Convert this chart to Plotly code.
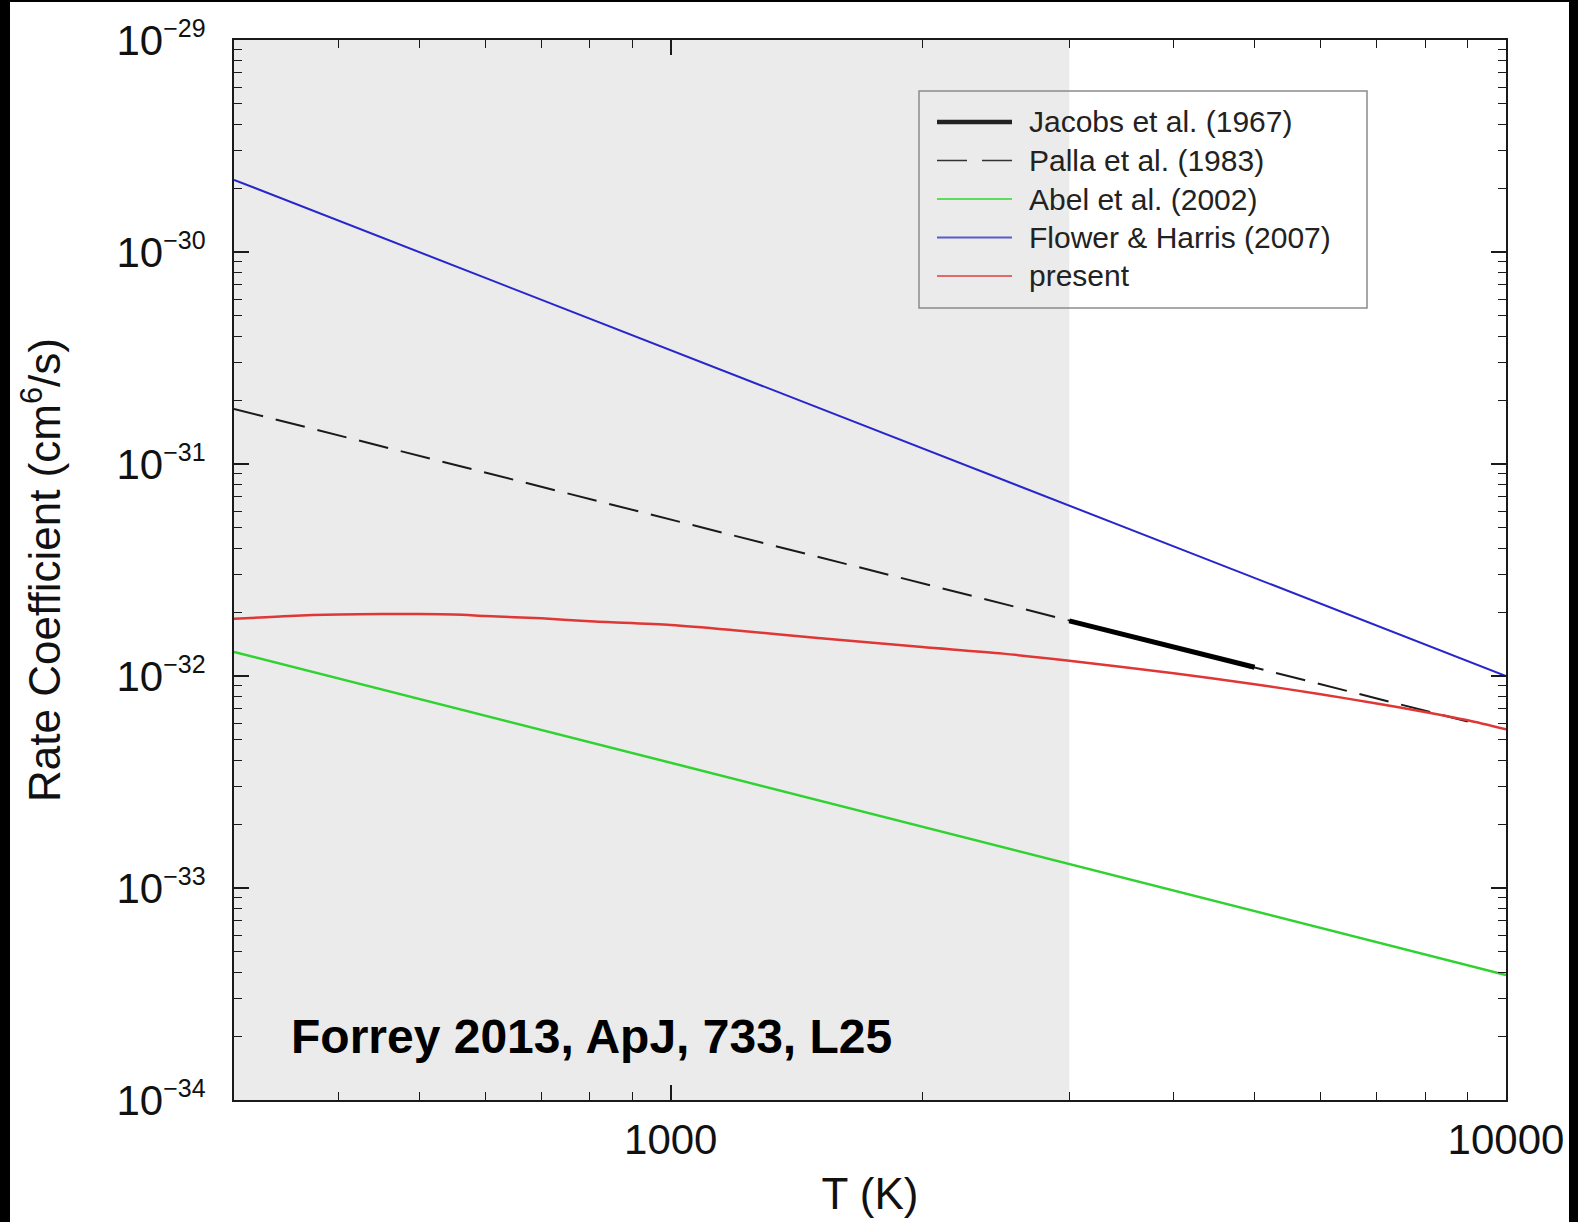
import math
import plotly.graph_objects as go

# ---------------- data ----------------
SERIES_NAMES = ["Jacobs et al. (1967)", "Palla et al. (1983)", "Abel et al. (2002)",
                "Flower & Harris (2007)", "present"]

T_JACOBS = [3000, 5000]
K_JACOBS = [1.82e-32, 1.10e-32]

T_PALLA = [300, 9000]
K_PALLA = [1.82e-31, 6.1e-33]

T_ABEL = [300, 10000]
K_ABEL = [1.30e-32, 3.89e-34]

T_FLOWER = [300, 10000]
K_FLOWER = [2.19e-30, 1.0e-32]

T_PRESENT = [300, 350, 400, 450, 500, 550, 600, 700, 800, 1000, 1200, 1500, 2000,
             2500, 3000, 4000, 5000, 6000, 7000, 8000, 9000, 10000]
K_PRESENT = [1.86e-32, 1.92e-32, 1.95e-32, 1.96e-32, 1.96e-32, 1.95e-32, 1.92e-32,
             1.87e-32, 1.81e-32, 1.74e-32, 1.64e-32, 1.51e-32, 1.37e-32, 1.275e-32,
             1.18e-32, 1.03e-32, 0.915e-32, 0.82e-32, 0.742e-32, 0.677e-32,
             0.618e-32, 0.56e-32]

SHADE_T = [300, 3000]
X_RANGE = [300, 10000]
Y_RANGE_EXP = [-34, -29]

X_TICKS = [1000, 10000]
X_TICK_LABELS = ["1000", "10000"]
X_MINOR = [400, 500, 600, 700, 800, 900, 2000, 3000, 4000, 5000, 6000, 7000, 8000, 9000]

Y_TICK_EXPS = [-34, -33, -32, -31, -30, -29]
Y_TICKS = [10.0 ** e for e in Y_TICK_EXPS]
Y_TICK_LABELS = ["10<sup><span style='font-size:25px'>\u2212%d</span></sup>" % (-e)
                 for e in Y_TICK_EXPS]
Y_MINOR = [m * 10.0 ** e for e in range(-34, -29) for m in range(2, 10)]

ANNOTATION_TEXT = "Forrey 2013, ApJ, 733, L25"
X_TITLE = "T (K)"
Y_TITLE = "Rate Coefficient (cm<sup>6</sup>/s)"

# ---------------- styles ----------------
C_JACOBS = "#000000"
C_PALLA = "#1a1a1a"
C_ABEL = "#2fd22f"
C_FLOWER = "#2626cc"
C_PRESENT = "#e03636"
FONT = "Liberation Sans, Arial, Helvetica, sans-serif"

W, H = 1578, 1222
ML, MR, MT, MB = 234, 72, 40, 122
PW, PH = W - ML - MR, H - MT - MB


def pxx(px):
    return (px - ML) / PW


def pxy(py):
    return (H - MB - py) / PH


fig = go.Figure()

fig.add_trace(go.Scatter(x=T_FLOWER, y=K_FLOWER, mode="lines", name=SERIES_NAMES[3],
                         line=dict(color=C_FLOWER, width=2), showlegend=False))
fig.add_trace(go.Scatter(x=T_ABEL, y=K_ABEL, mode="lines", name=SERIES_NAMES[2],
                         line=dict(color=C_ABEL, width=2.5), showlegend=False))
fig.add_trace(go.Scatter(x=T_PALLA, y=K_PALLA, mode="lines", name=SERIES_NAMES[1],
                         line=dict(color=C_PALLA, width=2, dash="30px,13px"), showlegend=False))
fig.add_trace(go.Scatter(x=T_PRESENT, y=K_PRESENT, mode="lines", name=SERIES_NAMES[4],
                         line=dict(color=C_PRESENT, width=2.5, shape="spline", smoothing=0.8),
                         showlegend=False))
fig.add_trace(go.Scatter(x=T_JACOBS, y=K_JACOBS, mode="lines", name=SERIES_NAMES[0],
                         line=dict(color=C_JACOBS, width=5), showlegend=False))

shapes = []
# shaded region
shapes.append(dict(type="rect", xref="x", yref="paper", x0=SHADE_T[0], x1=SHADE_T[1],
                   y0=0, y1=1, fillcolor="#ebebeb", line=dict(width=0), layer="below"))

# manual legend
LEG_BOX = (919, 91, 1367, 308)
shapes.append(dict(type="rect", xref="paper", yref="paper",
                   x0=pxx(LEG_BOX[0]), x1=pxx(LEG_BOX[2]),
                   y0=pxy(LEG_BOX[3]), y1=pxy(LEG_BOX[1]),
                   line=dict(color="#8c8c8c", width=1.5), fillcolor="rgba(0,0,0,0)",
                   layer="above"))
leg_rows = [122, 160.5, 199, 237.5, 276]
leg_styles = [dict(color="#222222", width=4.5),
              dict(color="#333333", width=1.5, dash="30px,15px"),
              dict(color="#5fdc5f", width=2),
              dict(color="#5a5ad0", width=2),
              dict(color="#e06a6a", width=2)]
annotations = []
for name, ry, st in zip(SERIES_NAMES, leg_rows, leg_styles):
    shapes.append(dict(type="line", xref="paper", yref="paper",
                       x0=pxx(937), x1=pxx(1012), y0=pxy(ry), y1=pxy(ry),
                       line=st, layer="above"))
    annotations.append(dict(xref="paper", yref="paper", x=pxx(1027), y=pxy(ry),
                            xanchor="left", yanchor="middle", showarrow=False,
                            text=name, font=dict(family=FONT, size=30, color="#222222")))

# black picture edges
for (a, b, c, d) in [(0, 0, 10, H), (0, 0, W, 2), (1569, 0, W, H)]:
    shapes.append(dict(type="rect", xref="paper", yref="paper",
                       x0=pxx(a), x1=pxx(c), y0=pxy(d), y1=pxy(b),
                       fillcolor="#000000", line=dict(width=0), layer="above"))

annotations.append(dict(xref="paper", yref="paper", x=pxx(289), y=pxy(1036),
                        xanchor="left", yanchor="middle", showarrow=False,
                        text="<b>%s</b>" % ANNOTATION_TEXT,
                        font=dict(family=FONT, size=48, color="#000000")))

axis_common = dict(showline=True, linecolor="#1a1a1a", linewidth=2, mirror="allticks",
                   ticks="inside", tickcolor="#1a1a1a", tickwidth=1.5, ticklen=15,
                   showgrid=False, zeroline=False,
                   tickfont=dict(family=FONT, size=42, color="#111111"))

fig.update_layout(
    width=W, height=H,
    margin=dict(l=ML, r=MR, t=MT, b=MB, autoexpand=False),
    paper_bgcolor="white", plot_bgcolor="white",
    showlegend=False,
    shapes=shapes, annotations=annotations,
    xaxis=dict(type="log", range=[math.log10(X_RANGE[0]), math.log10(X_RANGE[1])],
               tickvals=X_TICKS, ticktext=X_TICK_LABELS, ticklabelstandoff=2,
               minor=dict(tickvals=X_MINOR, ticks="inside", ticklen=8,
                          tickcolor="#1a1a1a", tickwidth=1.2, showgrid=False),
               title=dict(text=X_TITLE, font=dict(family=FONT, size=44, color="#111111"),
                          standoff=16),
               **axis_common),
    yaxis=dict(type="log", range=Y_RANGE_EXP,
               tickvals=Y_TICKS, ticktext=Y_TICK_LABELS, ticklabelstandoff=18,
               minor=dict(tickvals=Y_MINOR, ticks="inside", ticklen=8,
                          tickcolor="#1a1a1a", tickwidth=1.2, showgrid=False),
               title=dict(text=Y_TITLE, font=dict(family=FONT, size=44, color="#111111"),
                          standoff=42),
               **axis_common),
)

fig.write_html("out.html", config={"displayModeBar": False},
               post_script="document.body.style.margin='0px';")
